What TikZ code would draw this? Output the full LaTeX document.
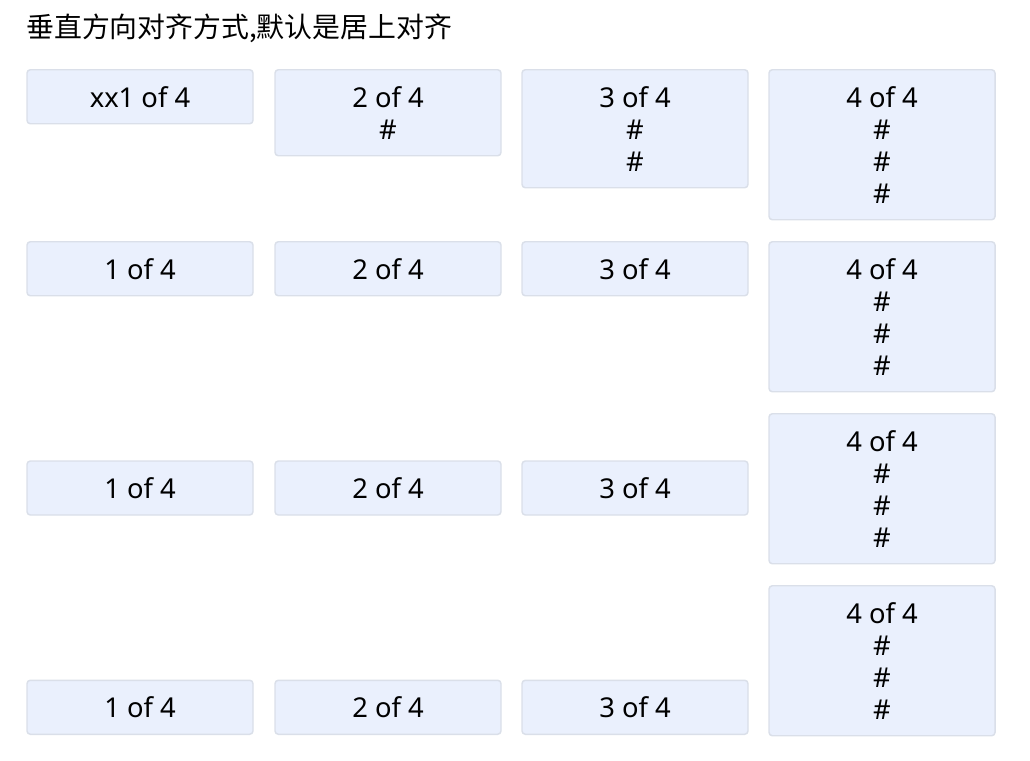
\documentclass[tikz,border=0pt]{standalone}
\usepackage{fontspec}
\setmainfont{Noto Sans}
\newfontfamily\cjk{Noto Sans CJK SC}
\usepackage{tikz}
\usetikzlibrary{calc}
\definecolor{cellfill}{RGB}{234,240,253}
\definecolor{cellline}{RGB}{218,223,233}
\tikzset{cell/.style={draw=cellline,line width=1.1pt,fill=cellfill,rounded corners=2.5pt,minimum width=169.5pt,inner sep=0pt,align=center,font=\fontsize{20.5}{24}\selectfont}}
\tikzset{one/.style={cell,minimum height=40.5pt}}
\tikzset{two/.style={cell,minimum height=64.5pt}}
\tikzset{three/.style={cell,minimum height=88.5pt}}
\tikzset{four/.style={cell,minimum height=112.5pt}}

\begin{document}
\begin{tikzpicture}[x=0.75pt,y=-0.75pt]
	\useasboundingbox (0,0) rectangle (1030,760);
	\node[anchor=west,inner sep=0pt,font=\cjk\fontsize{20.9}{24}\selectfont] (title) at (26,28) {垂直方向对齐方式,默认是居上对齐};
	% first row, top
	\node[one,anchor=north] (r1c1) at (140,69) {xx1 of 4};
	\node[two,anchor=north] (r1c2) at (388,69) {2 of 4\\\#};
	\node[three,anchor=north] (r1c3) at (635,69) {3 of 4\\\#\\\#};
	\node[four,anchor=north] (r1c4) at (882,69) {4 of 4\\\#\\\#\\\#};
	% second row
	\node[one,anchor=north] (r2c1) at (140,241) {1 of 4};
	\node[one,anchor=north] (r2c2) at (388,241) {2 of 4};
	\node[one,anchor=north] (r2c3) at (635,241) {3 of 4};
	\node[four,anchor=north] (r2c4) at (882,241) {4 of 4\\\#\\\#\\\#};
	% third row, centred
	\node[four,anchor=north] (r3c4) at (882,413) {4 of 4\\\#\\\#\\\#};
	\node[one] (r3c1) at (140,488) {1 of 4};
	\node[one] (r3c2) at (388,488) {2 of 4};
	\node[one] (r3c3) at (635,488) {3 of 4};
	% fourth row, bottom
	\node[four,anchor=north] (r4c4) at (882,585) {4 of 4\\\#\\\#\\\#};
	\node[one,anchor=south] (r4c1) at (140,735) {1 of 4};
	\node[one,anchor=south] (r4c2) at (388,735) {2 of 4};
	\node[one,anchor=south] (r4c3) at (635,735) {3 of 4};
\end{tikzpicture}
\end{document}
